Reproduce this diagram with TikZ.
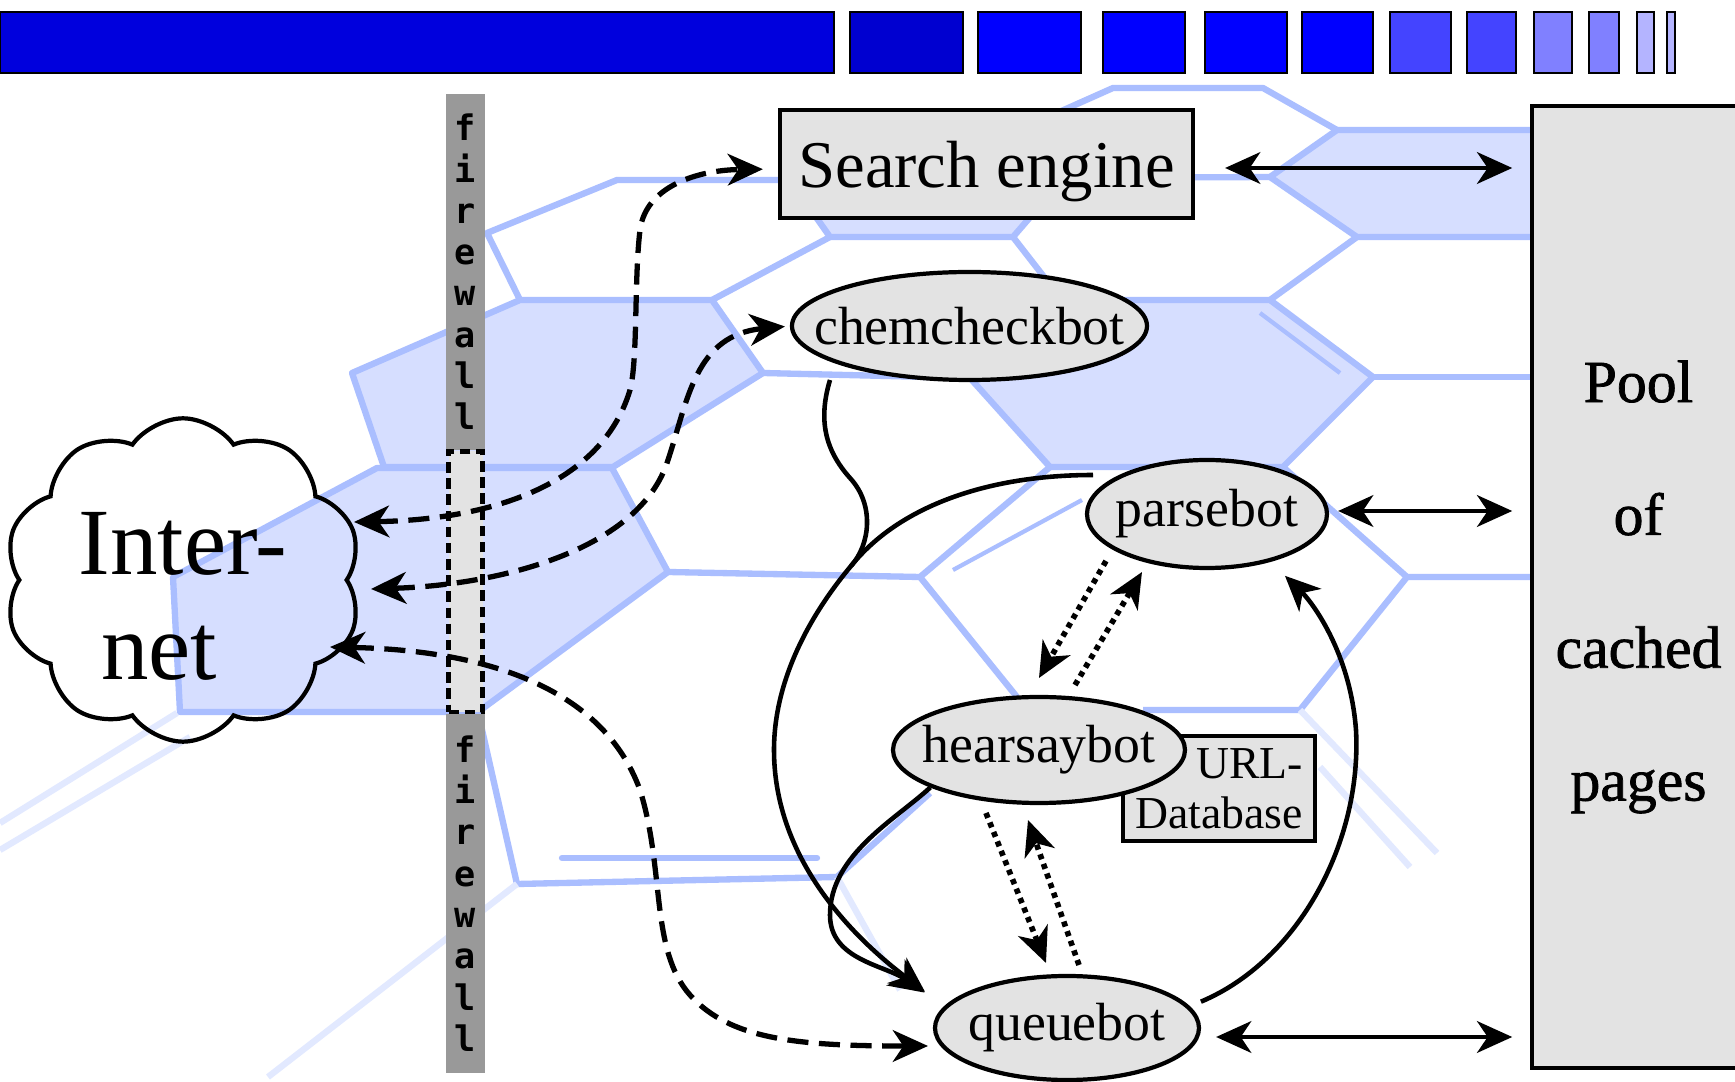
\documentclass[tikz,border=0pt]{standalone}
\usepackage{fontspec}
\setmainfont{Liberation Serif}
\newfontfamily\wallfont{DejaVu Sans Mono}
\newfontfamily\poolfont[FakeBold=1.2]{Liberation Serif}
\usetikzlibrary{shapes.geometric,shapes.symbols,arrows.meta}
\definecolor{boxgray}{HTML}{E3E3E3}
\definecolor{wallgray}{HTML}{999999}
\definecolor{hexfill}{HTML}{D6DEFF}
\definecolor{hexline}{HTML}{AABEFF}
\definecolor{hexfade}{HTML}{E2E9FF}
\definecolor{bara}{HTML}{0000DD}
\definecolor{barb}{HTML}{0000D0}
\definecolor{barc}{HTML}{0000FF}
\definecolor{bard}{HTML}{4444FF}
\definecolor{bare}{HTML}{8080FF}
\definecolor{barf}{HTML}{B4B4FF}
% label of fixed size inside an ellipse
\newcommand{\botlabel}[1]{\makebox[0pt]{#1}}
\begin{document}
\begin{tikzpicture}
    [x=0.1mm,y=-0.1mm,inner sep=0pt,
     bot/.style={ellipse,draw,fill=boxgray,line width=1.2pt,font=\fontsize{15.3}{18}\selectfont},
     box/.style={rectangle,draw,fill=boxgray,line width=1.2pt},
     wall/.style={rectangle,fill=wallgray,minimum width=3.9mm,align=center,font=\wallfont\bfseries\fontsize{10}{11.75}\selectfont},
     arrowline/.style={line width=1.3pt,-{Stealth[length=10pt,width=9pt,inset=3pt]}},
     biarrow/.style={line width=1.3pt,{Stealth[length=10pt,width=9pt,inset=3pt]}-{Stealth[length=10pt,width=9pt,inset=3pt]}},
     dasharrow/.style={biarrow,line width=1.5pt,dash pattern=on 6pt off 3pt},
     dotarrow/.style={arrowline,line width=1.6pt,dash pattern=on 1.5pt off 1.4pt}]
    \useasboundingbox (0,0) rectangle (1735,1082);
    \fill [white] (0,0) rectangle (1735,1082);
    % background hexagons
    \begin{scope}[color=hexline,line width=1.8pt,line join=round]
      \filldraw [fill=hexfill] (352,373) -- (520,300) -- (712,300) -- (763,373) -- (613,467) -- (384,467) -- cycle;
      \filldraw [fill=hexfill] (173,577) -- (377,468) -- (612,468) -- (668,572) -- (478,712) -- (180,712) -- cycle;
      \filldraw [fill=hexfill] (970,378) -- (1062,300) -- (1270,300) -- (1373,377) -- (1283,467) -- (1050,467) -- cycle;
      \filldraw [fill=hexfill] (1337,130) -- (1540,130) -- (1540,237) -- (1357,237) -- (1270,177) -- cycle;
      \filldraw [fill=hexfill] (790,180) -- (830,237) -- (1013,237) -- (1045,200) -- (1030,150) -- (810,150) -- cycle;
      \draw (520,300) -- (487,233) -- (617,180) -- (790,180);
      \draw (712,300) -- (830,237);
      \draw (1013,237) -- (1062,300);
      \draw (763,373) -- (970,378);
      \draw (1030,125) -- (1113,88) -- (1263,88) -- (1337,130);
      \draw (1050,178) -- (1270,177);
      \draw (1270,300) -- (1357,237);
      \draw (1373,377) -- (1540,377);
      \draw (1283,467) -- (1407,577) -- (1540,577);
      \draw (1407,577) -- (1300,710) -- (1143,710);
      \draw (1050,467) -- (920,577) -- (668,572);
      \draw (920,577) -- (1017,697);
      \draw (930,793) -- (837,877) -- (517,884);
      \draw (478,712) -- (517,884);
      \draw [line cap=round] (562,858) -- (817,858);
      \draw [line width=1.2pt] (1260,313) -- (1340,373);
      \draw [line width=1.2pt] (953,570) -- (1082,500);
      \draw [hexfade] (837,877) -- (900,990);
      \draw [hexfade] (1300,710) -- (1437,853);
      \draw [hexfade] (1320,767) -- (1410,867);
      \draw [hexfade] (517,884) -- (268,1077);
      \draw [hexfade] (177,713) -- (0,823);
      \draw [hexfade] (190,737) -- (0,850);
    \end{scope}
    % title bar
    \foreach \xa/\xb/\c in {0/834/bara, 850/963/barb, 978/1081/barc, 1103/1185/barc,
        1205/1287/barc, 1302/1373/barc, 1390/1451/bard, 1467/1516/bard,
        1534/1572/bare, 1589/1619/bare, 1637/1654/barf, 1667/1675/barf}
      \filldraw [fill=\c,draw=black,line width=0.8pt] (\xa,12) rectangle (\xb,73);
    % firewall
    \node (walltop) at (465.5,272) [wall,minimum height=35.6mm] {f\\i\\r\\e\\w\\a\\l\\l};
    \node (wallgap) at (465.5,582) [rectangle,draw,fill=boxgray,line width=1.5pt,
      dash pattern=on 3pt off 1.6pt,minimum width=3.4mm,minimum height=26.1mm] {};
    \node (wallbot) at (465.5,893.5) [wall,minimum height=35.9mm] {f\\i\\r\\e\\w\\a\\l\\l};
    % nodes
    \node (net) at (183,580) [cloud,draw,line width=1.2pt,cloud puffs=10,cloud puff arc=110,
      aspect=1.15,minimum width=33.9mm,minimum height=29.5mm,align=center,
      font=\fontsize{27}{30}\selectfont] {\rule{0pt}{1em}Inter-\\net\hspace*{0.5em}};
    \node (search) at (986.5,164) [box,minimum width=41.3mm,minimum height=10.8mm,
      font=\fontsize{19}{22}\selectfont] {\rule{0pt}{17.5pt}Search engine};
    \node (chem) at (969.5,326) [bot,minimum width=35.5mm,minimum height=10.8mm] {\botlabel{chemcheckbot}};
    \node (parse) at (1207,514) [bot,minimum width=24mm,minimum height=10.8mm] {\botlabel{parsebot}};
    \node (url) at (1219,788.5) [box,minimum width=19.2mm,minimum height=10.5mm,align=right,
      font=\fontsize{13}{14.2}\selectfont] {URL-\\Database};
    \node (hearsay) at (1039,750) [bot,minimum width=29.2mm,minimum height=10.6mm] {\botlabel{hearsaybot}};
    \node (queue) at (1067,1028) [bot,minimum width=26.4mm,minimum height=10.4mm] {\botlabel{queuebot}};
    \node (pool) at (1638.5,587) [box,line width=1pt,minimum width=21.3mm,minimum height=96.2mm,
      align=center,font=\poolfont\fontsize{17}{37.8}\selectfont] {Pool\\of\\cached\\pages};
    \coordinate (chemout) at (830,380);
    \coordinate (merge) at (851,566);
    \coordinate (loopin) at (1093,475);
    % links to the pool
    \draw [biarrow,shorten <=3mm,shorten >=1.8mm] ([yshift=-0.4mm]search.east) to ([yshift=-0.4mm]search.east -| pool.west);
    \draw [biarrow,shorten <=0.9mm,shorten >=1.8mm] ([yshift=0.3mm]parse.east) to ([yshift=0.3mm]parse.east -| pool.west);
    \draw [biarrow,shorten <=1.5mm,shorten >=1.8mm] ([yshift=-0.9mm]queue.east) to ([yshift=-0.9mm]queue.east -| pool.west);
    % through the firewall
    \draw [dasharrow,shorten >=1.5mm] ([shift={(171,-58)}]net.center) .. controls (480,520) and (600,490) .. (630,390)
      .. controls (638,360) and (634,280) .. (640,230) .. controls (646,185) and (700,170) .. ([yshift=-0.5mm]search.west);
    \draw [dasharrow,shorten >=0.5mm] ([shift={(188,9)}]net.center) .. controls (500,585) and (640,550) .. (668,460)
      .. controls (688,400) and (695,335) .. (chem.west);
    \draw [dasharrow] ([shift={(147,67)}]net.center) .. controls (470,650) and (600,680) .. (640,790)
      .. controls (665,870) and (650,950) .. (690,995) .. controls (730,1040) and (800,1046) .. ([shift={(-139,18)}]queue.center);
    % bots
    \draw [line width=1.3pt] (chemout) .. controls (818,420) and (825,450) .. (850,478) .. controls (875,505) and (870,545) .. (merge);
    \draw [arrowline,shorten >=2.4mm] (loopin) .. controls (990,475) and (900,505) .. (merge)
      .. controls (810,615) and (774,680) .. (774,750) .. controls (774,870) and (870,950) .. (queue.170);
    \draw [arrowline,shorten >=2.4mm] (hearsay.199) .. controls (895,820) and (830,855) .. (830,915)
      .. controls (830,960) and (885,965) .. (queue.170);
    \draw [arrowline,shorten <=1.2mm,shorten >=2mm] (queue.10) .. controls (1300,960) and (1362,840) .. (1356,730)
      .. controls (1350,650) and (1310,600) .. (parse.-37);
    \draw [dotarrow] ([shift={(-101,47)}]parse.center) to ([shift={(0,-72)}]hearsay.center);
    \draw [dotarrow] ([shift={(36,-65)}]hearsay.center) to ([shift={(-65,58)}]parse.center);
    \draw [dotarrow] ([shift={(-53,63)}]hearsay.center) to ([shift={(-21,-65)}]queue.center);
    \draw [dotarrow] ([shift={(12,-63)}]queue.center) to ([shift={(-11,70)}]hearsay.center);
  \end{tikzpicture}
\end{document}
